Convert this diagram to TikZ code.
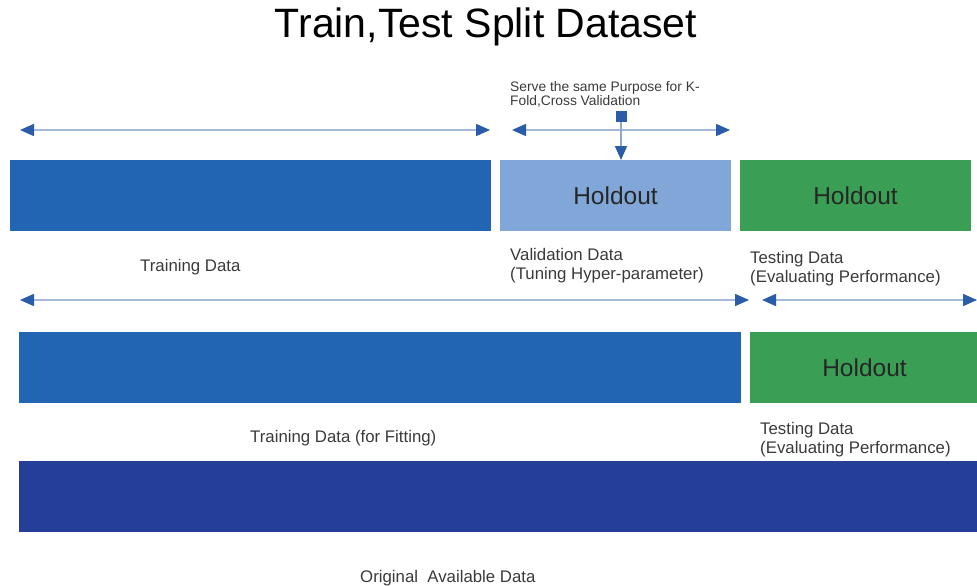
\documentclass[tikz,border=0pt]{standalone}
\usepackage{fontspec}
\setmainfont{Liberation Sans}
\usetikzlibrary{arrows.meta}
\definecolor{bar}{RGB}{34, 102, 179}
\definecolor{val}{RGB}{128, 167, 216}
\definecolor{hold}{RGB}{58, 159, 84}
\definecolor{orig}{RGB}{37, 63, 152}
\definecolor{tip}{RGB}{43, 92, 168}
\definecolor{shaft}{RGB}{165, 185, 216}
\definecolor{txt}{RGB}{58, 58, 58}
\tikzset{
  block/.style={anchor=north west, inner sep=0, outer sep=0, text=black!85,
    font=\fontsize{24.5}{28}\selectfont},
  label/.style={anchor=base west, inner sep=0, text=txt, align=left,
    font=\fontsize{16.8}{19}\selectfont},
  span/.style={draw=shaft, line width=1.6pt,
    {Triangle[length=14pt,width=12pt,color=tip]}-{Triangle[length=14pt,width=12pt,color=tip]}},
}
\begin{document}
\begin{tikzpicture}[x=1pt, y=-1pt]
      \useasboundingbox (0, 0) rectangle (977, 586);
      \node(title) at (486, 27) {\fontsize{41}{44}\selectfont Train,Test Split Dataset};
      % first split: train / validation / test
      \node[block, fill=bar, minimum width=481, minimum height=71] (trainA) at (10, 160) {};
      \node[block, fill=val, minimum width=231, minimum height=71] (valA) at (500, 160) {Holdout};
      \node[block, fill=hold, minimum width=231, minimum height=71] (testA) at (740, 160) {Holdout};
      \coordinate (a1) at (20, 130);
      \coordinate (b1) at (490, 130);
      \coordinate (a2) at (512, 130);
      \coordinate (b2) at (730, 130);
      \draw[span] (a1)--(b1);
      \draw[span] (a2)--(b2);
      \node[fill=tip, minimum size=11, inner sep=0] (sq) at (621, 116) {};
      \draw[draw=shaft!80!tip, line width=1.6pt, -{Triangle[length=14pt,width=12pt,color=tip]}]
        (sq.south)--(sq.south |- valA.north);
      \node[label, font=\fontsize{13.8}{14}\selectfont] (kfold) at (510, 105.5)
        {Serve the same Purpose for K-\\Fold,Cross Validation};
      \node[label] (trainAtxt) at (140, 271) {Training Data};
      \node[label] (valAtxt) at (510, 279) {Validation Data\\(Tuning Hyper-parameter)};
      \node[label] (testAtxt) at (750, 282) {Testing Data\\(Evaluating Performance)};
      % second split: train / test
      \coordinate (a3) at (20, 300);
      \coordinate (b3) at (749, 300);
      \coordinate (a4) at (762, 300);
      \coordinate (b4) at (977, 300);
      \draw[span] (a3)--(b3);
      \draw[span] (a4)--(b4);
      \node[block, fill=bar, minimum width=722, minimum height=71] (trainB) at (19, 332) {};
      \node[block, fill=hold, minimum width=227, minimum height=71] (testB) at (750, 332) {\hspace*{2pt}Holdout};
      \node[label] (trainBtxt) at (250, 442) {Training Data (for Fitting)};
      \node[label] (testBtxt) at (760, 453) {Testing Data\\(Evaluating Performance)};
      % all data
      \node[block, fill=orig, minimum width=958, minimum height=71] (all) at (19, 461) {};
      \node[label] (alltxt) at (360, 582) {Original\ \ Available Data};
    \end{tikzpicture}
\end{document}
